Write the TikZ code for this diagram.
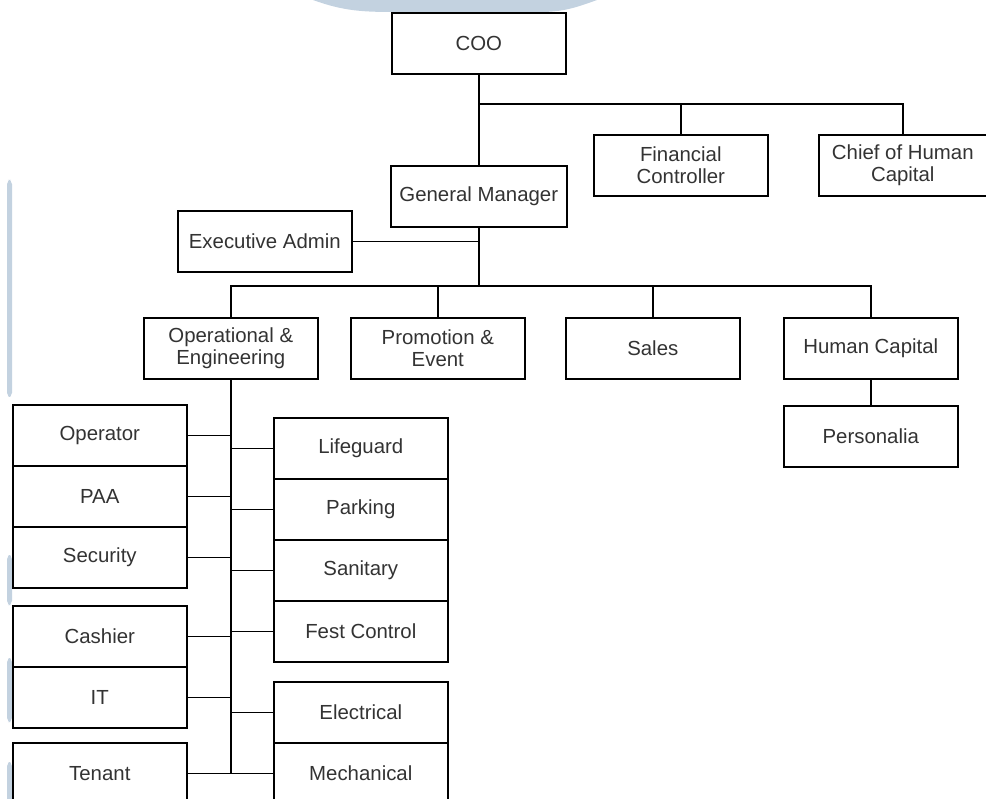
\documentclass[tikz,border=0pt]{standalone}
\usepackage{fontspec}
\setmainfont{Liberation Sans}
\usetikzlibrary{positioning}
\definecolor{bandclr}{RGB}{195,210,224}
\definecolor{unittext}{RGB}{51,51,51}

\tikzset{
  unit/.style={draw, fill=white, line width=1.1pt, minimum width=4.35cm, minimum height=1.525cm,
               inner sep=0pt, align=center, anchor=north west,
               font=\fontsize{14.5}{16}\selectfont, text=unittext},
  link/.style={line width=1.05pt}
}

\begin{document}
\begin{tikzpicture}[x=0.025cm, y=-0.025cm]
  \useasboundingbox (0,0) rectangle (986,799);
  \clip (0,0) rectangle (986,799);
  % page decoration behind the chart
  \fill[bandclr] (313,0) to[out=-20,in=180] (395,12) -- (540,12) to[out=0,in=-160] (597,0) -- cycle;
  \fill[bandclr, rounded corners=3] (7,180) rectangle (12,397);
  \fill[bandclr, rounded corners=3] (7,555) rectangle (12,605);
  \fill[bandclr, rounded corners=3] (7,658) rectangle (12,722);
  \fill[bandclr, rounded corners=3] (7,762) rectangle (12,805);
  % top level
  \node[unit] (coo) at (391,12) {COO};
  \node[unit] (fc) at (593,134) {Financial\\Controller};
  \node[unit, minimum width=4.2cm] (chc) at (818,134) {Chief of Human\\Capital};
  \node[unit, minimum width=4.4cm] (gm) at (390,165) {General Manager};
  \node[unit] (ea) at (177,210) {Executive Admin};
  % departments
  \node[unit] (oe) at (143,317) {Operational \&\\Engineering};
  \node[unit] (pe) at (350,317) {Promotion \&\\Event};
  \node[unit] (sales) at (565,317) {Sales};
  \node[unit] (hc) at (783,317) {Human Capital};
  \node[unit] (pers) at (783,405) {Personalia};
  % operational staff, left column
  \node[unit] (oper) at (12,404) {Operator};
  \node[unit] (paa) at (12,465) {PAA};
  \node[unit] (secu) at (12,526) {Security};
  \node[unit] (cash) at (12,605) {Cashier};
  \node[unit] (it) at (12,666) {IT};
  \node[unit] (tenant) at (12,742) {Tenant};
  % operational staff, right column
  \node[unit] (life) at (273,417) {Lifeguard};
  \node[unit] (park) at (273,478) {Parking};
  \node[unit] (sani) at (273,539) {Sanitary};
  \node[unit] (fest) at (273,600) {Fest Control};
  \node[unit] (elec) at (273,681) {Electrical};
  \node[unit] (mech) at (273,742) {Mechanical};
  % connectors
  \coordinate (topbus) at (0,104);
  \coordinate (midbus) at (0,286);
  \draw[link] (coo.south) -- (gm.north);
  \draw[link] (coo.south |- topbus) -| (chc.north);
  \draw[link] (fc.north) -- (fc.north |- topbus);
  \draw[link] (ea.east) -- (ea.east -| gm.south);
  \draw[link] (gm.south) -- (gm.south |- midbus);
  \draw[link] (oe.north) -- (oe.north |- midbus) -| (hc.north);
  \draw[link] (pe.north) -- (pe.north |- midbus);
  \draw[link] (sales.north) -- (sales.north |- midbus);
  \draw[link] (hc.south) -- (pers.north);
  \draw[link] (oe.south) -- (oe.south |- mech.west);
  \draw[link] (oper.east) -- (oper.east -| oe.south);
  \draw[link] (paa.east) -- (paa.east -| oe.south);
  \draw[link] (secu.east) -- (secu.east -| oe.south);
  \draw[link] (cash.east) -- (cash.east -| oe.south);
  \draw[link] (it.east) -- (it.east -| oe.south);
  \draw[link] (tenant.east) -- (tenant.east -| oe.south);
  \draw[link] (life.west) -- (life.west -| oe.south);
  \draw[link] (park.west) -- (park.west -| oe.south);
  \draw[link] (sani.west) -- (sani.west -| oe.south);
  \draw[link] (fest.west) -- (fest.west -| oe.south);
  \draw[link] (elec.west) -- (elec.west -| oe.south);
  \draw[link] (mech.west) -- (mech.west -| oe.south);
\end{tikzpicture}
\end{document}
